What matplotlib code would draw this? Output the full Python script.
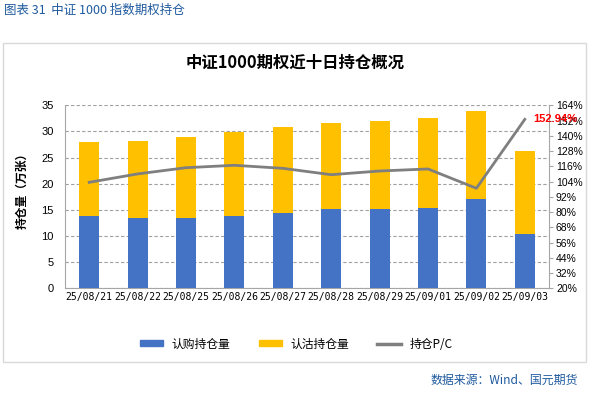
import numpy as np
import matplotlib as mpl
mpl.use('Agg')
import matplotlib.pyplot as plt
from matplotlib.patches import Rectangle
from matplotlib.lines import Line2D
from matplotlib.ticker import FuncFormatter

plt.rcParams['font.family'] = ['Noto Sans CJK SC', 'DejaVu Sans']

# data
dates = ['25/08/21', '25/08/22', '25/08/25', '25/08/26', '25/08/27',
         '25/08/28', '25/08/29', '25/09/01', '25/09/02', '25/09/03']
call_oi = [13.8, 13.4, 13.4, 13.8, 14.4, 15.2, 15.2, 15.35, 17.1, 10.4]
put_oi = [14.2, 14.8, 15.5, 16.1, 16.4, 16.4, 16.8, 17.25, 16.9, 15.9]
pc_ratio = [103.4, 110.0, 114.9, 116.8, 114.4, 109.4, 112.3, 113.9, 98.7, 152.94]

blue = '#4472C4'
orange = '#FFC000'
grey = '#7F7F7F'
head_blue = '#1F5A9E'

fig = plt.figure(figsize=(6.06, 3.99), dpi=100)

# outer frame
fig.patches.append(Rectangle((3/606, 1 - 362/399), 583/606, 319/399,
                             transform=fig.transFigure, fill=False,
                             edgecolor='#D9D9D9', linewidth=1.0))

fig.text(4/606, 1 - 10/399, '图表 31  中证 1000 指数期权持仓', color=head_blue,
         fontsize=9, va='center', ha='left')
fig.text(295/606, 1 - 63/399, '中证1000期权近十日持仓概况', fontsize=11.8,
         fontweight='bold', ha='center', va='center')
fig.text(578/606, 1 - 380/399, '数据来源：Wind、国元期货', color=head_blue,
         fontsize=8.6, ha='right', va='center')

ax = fig.add_axes([65/606, 1 - 288.3/399, 484/606, 183/399])
x = np.arange(len(dates))
ax.bar(x, call_oi, width=0.41, color=blue, zorder=3)
ax.bar(x, put_oi, width=0.41, bottom=call_oi, color=orange, zorder=3)
ax.set_xlim(-0.5, len(dates) - 0.5)
ax.set_ylim(0, 35)
ax.set_yticks(np.arange(0, 36, 5))
ax.set_xticks(x)
ax.set_xticklabels(dates, fontsize=7, family=['DejaVu Sans Mono'])
ax.tick_params(axis='x', length=0, pad=3)
ax.tick_params(axis='y', length=0, labelsize=8, pad=8)
for lab in ax.get_yticklabels():
    lab.set_family(['Liberation Sans'])
ax.yaxis.grid(True, linestyle=(0, (3, 2)), color='#A0A0A0', linewidth=0.8, zorder=0)
for s in ['top', 'right']:
    ax.spines[s].set_visible(False)
ax.spines['left'].set_color('#A6A6A6')
ax.spines['bottom'].set_color('#A6A6A6')
ax.set_ylabel('持仓量（万张）', fontsize=8.5, fontweight='bold')
ax.yaxis.set_label_coords(-0.075, 0.55)

ax2 = ax.twinx()
ax2.plot(x, pc_ratio, color=grey, linewidth=2.0, zorder=4)
ax2.set_ylim(20, 164)
ax2.set_yticks(np.arange(20, 165, 12))
ax2.yaxis.set_major_formatter(FuncFormatter(lambda v, p: '%d%%' % v))
ax2.tick_params(axis='y', length=3, color='#A6A6A6', labelsize=7.5, pad=2)
for lab in ax2.get_yticklabels():
    lab.set_family(['Liberation Sans Narrow', 'Liberation Sans'])
for s in ['top', 'left', 'bottom']:
    ax2.spines[s].set_visible(False)
ax2.spines['right'].set_color('#A6A6A6')
ax2.annotate('%.2f%%' % pc_ratio[-1], (x[-1], pc_ratio[-1]), xytext=(6, 0),
             textcoords='offset points', color='#FF0000', fontsize=8,
             fontweight='bold', va='center', ha='left',
             family=['Liberation Sans'], annotation_clip=False)

handles = [Rectangle((0, 0), 1, 1, color=blue),
           Rectangle((0, 0), 1, 1, color=orange),
           Line2D([0], [0], color=grey, linewidth=2.5)]
fig.legend(handles, ['认购持仓量', '认沽持仓量', '持仓P/C'],
           loc='center', bbox_to_anchor=(296/606, 1 - 344/399), ncol=3,
           frameon=False, fontsize=8.5, handlelength=2.0, handleheight=0.35,
           columnspacing=2.4, handletextpad=0.7)

fig.savefig('out.png', dpi=100)
